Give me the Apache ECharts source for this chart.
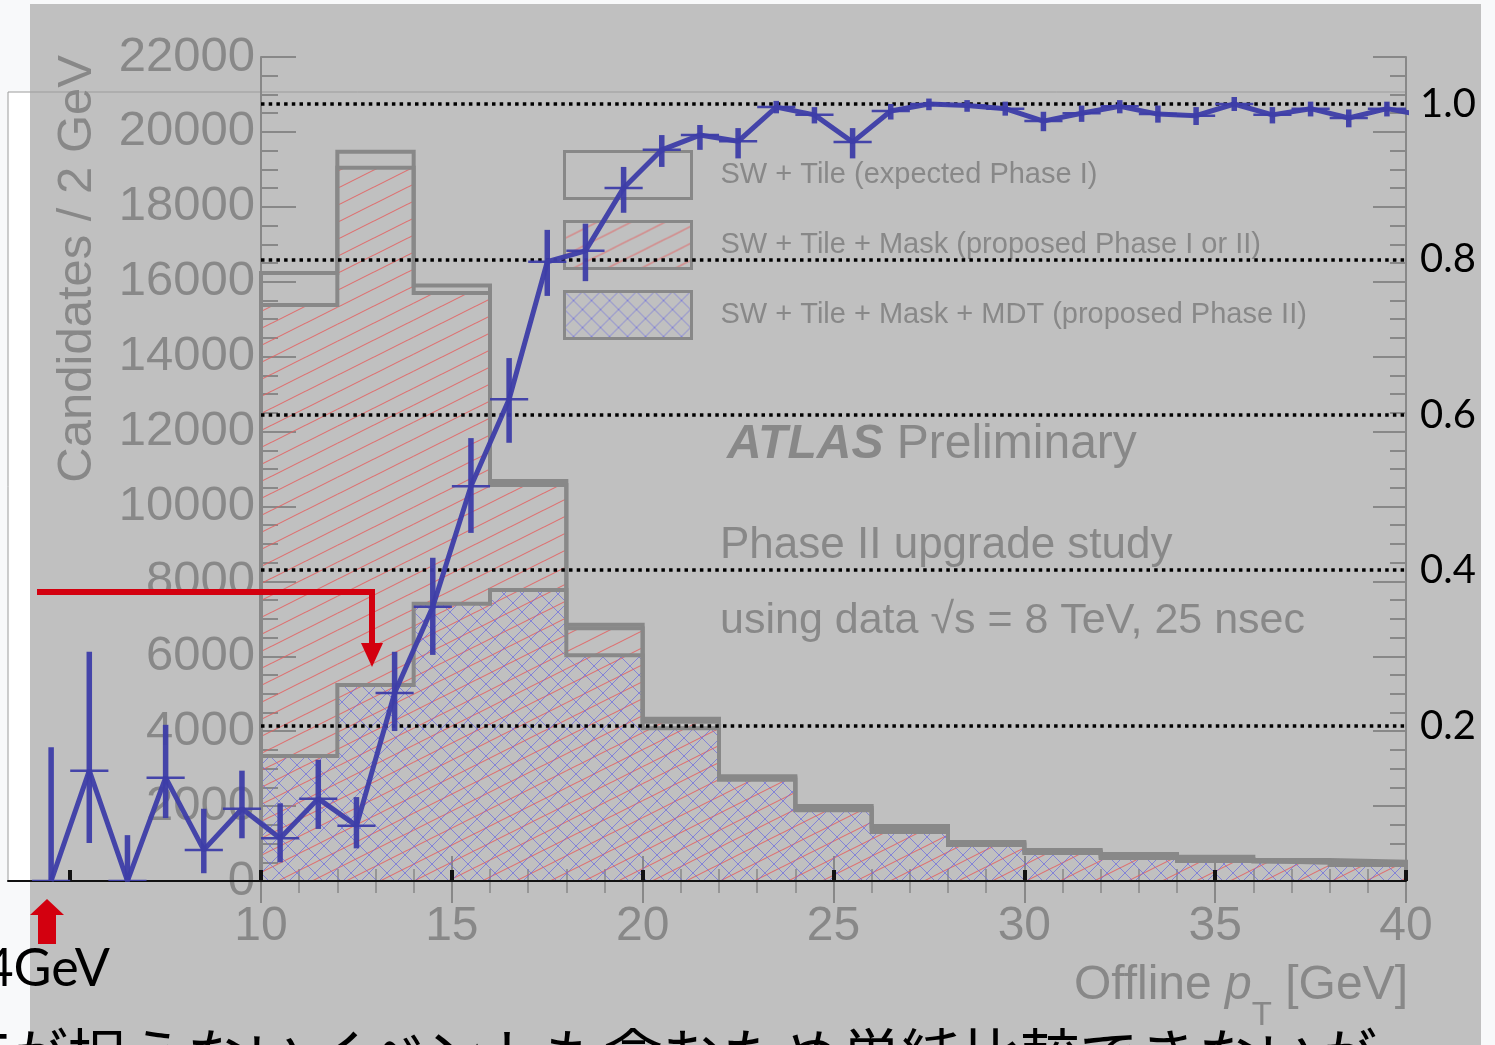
<!DOCTYPE html>
<html><head><meta charset="utf-8">
<script src="https://cdn.jsdelivr.net/npm/echarts@6/dist/echarts.min.js"></script>
<style>html,body{margin:0;padding:0;background:#f8f9fa;}#c{width:1495px;height:1045px;}</style>
</head><body><div id="c"></div>
<script>
// ---- histogram data (Candidates / 2 GeV) ----
const binLow  = [10,12,14,16,18,20,22,24,26,28,30,32,34,36,38];
const binHigh = [12,14,16,18,20,22,24,26,28,30,32,34,36,38,40];
const swTile        = [16230,19470,15900,10680,6840,4330,2800,2000,1470,1040,830,720,650,560,515];
const swTileMask    = [15380,19040,15700,10575,6750,4250,2760,1950,1390,1000,790,660,590,520,470];
const swTileMaskMdt = [3340,5230,7400,7770,6030,4080,2700,1890,1310,960,750,615,535,490,430];
const seriesNames = ['SW + Tile (expected Phase I)','SW + Tile + Mask (proposed Phase I or II)','SW + Tile + Mask + MDT (proposed Phase II)'];

// ---- efficiency data (overlay, right axis) ----
const effPt  = [4.5,5.5,6.5,7.5,8.5,9.5,10.5,11.5,12.5,13.5,14.5,15.5,16.5,17.5,18.5,19.5,20.5,21.5,22.5,23.5,24.5,25.5,26.5,27.5,28.5,29.5,30.5,31.5,32.5,33.5,34.5,35.5,36.5,37.5,38.5,39.5,40.5];
const effVal = [0,0.142,0,0.133,0.040,0.093,0.055,0.106,0.071,0.242,0.353,0.508,0.620,0.797,0.811,0.892,0.941,0.960,0.952,0.996,0.986,0.951,0.991,1.000,0.998,0.994,0.978,0.988,0.997,0.987,0.985,1.000,0.986,0.994,0.982,0.994,0.985];
const effLo  = [0,0.049,0,0.081,0.010,0.055,0.024,0.067,0.042,0.193,0.291,0.448,0.564,0.753,0.772,0.860,0.919,0.941,0.930,0.988,0.975,0.930,0.980,0.992,0.990,0.985,0.965,0.977,0.988,0.976,0.973,0.991,0.975,0.984,0.970,0.984,0.985];
const effHi  = [0.172,0.295,0.059,0.201,0.093,0.142,0.100,0.156,0.108,0.295,0.416,0.570,0.673,0.838,0.846,0.919,0.960,0.973,0.969,1.004,0.996,0.969,1.000,1.007,1.005,1.003,0.990,0.998,1.005,0.998,0.996,1.009,0.996,1.003,0.993,1.003,0.985];
const effTicks = [5,10,15,20,25,30,35,40];

// ---- hatch patterns ----
function redHatch(){
  const w=34,h=17,c=document.createElement('canvas');c.width=w;c.height=h;
  const g=c.getContext('2d');g.strokeStyle='rgba(228,96,96,0.85)';g.lineWidth=1.1;
  for(let k=-1;k<=1;k++){g.beginPath();g.moveTo(-2,h+1+k*h);g.lineTo(w+2,-1+k*h);g.stroke();}
  return c;
}
function blueCross(){
  const p=18,c=document.createElement('canvas');c.width=p;c.height=p;
  const g=c.getContext('2d');g.strokeStyle='rgba(105,105,225,0.7)';g.lineWidth=1;
  for(let k=-1;k<=1;k++){
    g.beginPath();g.moveTo(-1,-1+k*p);g.lineTo(p+1,p+1+k*p);g.stroke();
    g.beginPath();g.moveTo(-1,p+1+k*p);g.lineTo(p+1,-1+k*p);g.stroke();
  }
  return c;
}
const redPat={image:redHatch(),repeat:'repeat'};
const bluePat={image:blueCross(),repeat:'repeat'};
const GRAY='#888', BLUE='#3d3da8', RED='#d3000f';
const ROOT_FONT='"Liberation Sans", Arial, sans-serif';

function histFill(name, vals, fill, border){
  return {
    type:'custom', name:name, xAxisIndex:0, yAxisIndex:0, z:2,
    itemStyle:{color:fill, borderColor:border, borderWidth:3},
    data: binLow.map((b,i)=>[b, binHigh[i], vals[i]]),
    encode:{x:[0,1], y:2},
    renderItem:(params, api)=>{
      const p0=api.coord([api.value(0), api.value(2)]);
      const p1=api.coord([api.value(1), 0]);
      return {type:'rect', shape:{x:p0[0], y:p0[1], width:p1[0]-p0[0], height:p1[1]-p0[1]}, style:{fill:fill}};
    }
  };
}
function histOutline(vals, z){
  const pts=[[binLow[0],0]];
  vals.forEach((v,i)=>{pts.push([binLow[i],v]);pts.push([binHigh[i],v]);});
  pts.push([binHigh[binHigh.length-1],0]);
  return {type:'line', name:'outline', xAxisIndex:0, yAxisIndex:0, z:z, symbol:'none', silent:true,
    lineStyle:{color:GRAY, width:4, join:'miter'}, data:pts};
}

const chart=echarts.init(document.getElementById('c'),null,{renderer:'canvas'});
const tickAxisCommon={
  axisLine:{show:true, lineStyle:{color:GRAY, width:2}},
  splitLine:{show:false}
};
chart.setOption({
  animation:false,
  backgroundColor:'#f8f9fa',
  grid:[
    {left:261, top:57, width:1145, height:824, show:false},
    {left:261, top:104, width:1145, height:777, show:false},
    {left:8, top:92, width:1398, height:789, show:true, backgroundColor:'transparent', borderColor:'#9c9c9c', borderWidth:1}
  ],
  xAxis:[
    Object.assign({gridIndex:0, type:'value', min:10, max:40, interval:5, position:'bottom',
      axisTick:{show:true, inside:true, length:25, lineStyle:{color:GRAY, width:2}},
      minorTick:{show:true, splitNumber:5, length:12, lineStyle:{color:GRAY, width:1.5}},
      axisLabel:{show:true, color:GRAY, fontSize:48, fontFamily:ROOT_FONT, margin:22, formatter:v=>String(v)}}, tickAxisCommon),
    Object.assign({gridIndex:0, type:'value', min:10, max:40, interval:5, position:'top',
      axisTick:{show:true, inside:true, length:22, lineStyle:{color:GRAY, width:2}},
      minorTick:{show:true, splitNumber:5, length:12, lineStyle:{color:GRAY, width:1.5}},
      axisLabel:{show:false}}, tickAxisCommon),
    {gridIndex:1, type:'value', min:10, max:40, show:false},
    {gridIndex:2, type:'value', min:3.37, max:40, position:'bottom', z:6,
      axisLine:{show:true, lineStyle:{color:'#111', width:2}},
      axisTick:{show:true, inside:true, length:11, customValues:effTicks, lineStyle:{color:'#111', width:4}},
      axisLabel:{show:false}, splitLine:{show:false}}
  ],
  yAxis:[
    Object.assign({gridIndex:0, type:'value', min:0, max:22000, interval:2000, position:'left',
      axisTick:{show:true, inside:true, length:35, lineStyle:{color:GRAY, width:2}},
      minorTick:{show:true, splitNumber:4, length:17, lineStyle:{color:GRAY, width:2}},
      axisLabel:{show:true, color:GRAY, fontSize:49, fontFamily:ROOT_FONT, margin:6, formatter:v=>String(v)}}, tickAxisCommon),
    Object.assign({gridIndex:0, type:'value', min:0, max:22000, interval:2000, position:'right',
      axisTick:{show:true, inside:true, length:33, lineStyle:{color:GRAY, width:2}},
      minorTick:{show:true, splitNumber:4, length:16, lineStyle:{color:GRAY, width:2}},
      axisLabel:{show:false}}, tickAxisCommon),
    {gridIndex:1, type:'value', min:0, max:1, interval:0.2, position:'right', z:5,
      axisLine:{show:false}, axisTick:{show:false},
      axisLabel:{show:true, color:'#000', fontSize:40, fontFamily:'Lato, "Open Sans", sans-serif', margin:14, showMinLabel:false,
        padding:[10,0,0,0], formatter:v=>v.toFixed(1)},
      splitLine:{show:true, showMinLine:false, lineStyle:{color:'#000', width:3.5, type:[3.5,4.2]}}},
    {gridIndex:2, type:'value', min:0, max:1.01544, show:false}
  ],
  legend:{
    show:true, orient:'vertical', left:563, top:150, itemWidth:127, itemHeight:47, itemGap:20,
    padding:0, selectedMode:false, icon:'rect', z:4,
    itemStyle:{borderColor:GRAY, borderWidth:3},
    textStyle:{color:GRAY, fontSize:29, fontFamily:ROOT_FONT, padding:[0,0,0,24]},
    data:seriesNames
  },
  series:[
    histFill(seriesNames[0], swTile, 'rgba(0,0,0,0)', GRAY),
    histFill(seriesNames[1], swTileMask, redPat, GRAY),
    histFill(seriesNames[2], swTileMaskMdt, bluePat, GRAY),
    histOutline(swTile, 3),
    histOutline(swTileMask, 3),
    histOutline(swTileMaskMdt, 3),
    {type:'line', name:'efficiency', xAxisIndex:3, yAxisIndex:3, z:10, symbol:'none', clip:true, silent:true,
      lineStyle:{color:BLUE, width:5, opacity:0.95},
      data:effPt.map((x,i)=>[x, effVal[i]])},
    {type:'custom', name:'efficiency errors', xAxisIndex:3, yAxisIndex:3, z:10, clip:true, silent:true,
      data:effPt.map((x,i)=>[x, effVal[i], effLo[i], effHi[i]]),
      renderItem:(params, api)=>{
        const x=api.value(0), v=api.value(1);
        const pc=api.coord([x, v]), pl=api.coord([x, api.value(2)]), ph=api.coord([x, api.value(3)]);
        const pL=api.coord([x-0.5, v]), pR=api.coord([x+0.5, v]);
        return {type:'group', children:[
          {type:'line', shape:{x1:pc[0], y1:ph[1], x2:pc[0], y2:pl[1]}, style:{stroke:BLUE, lineWidth:5.5, opacity:0.95}},
          {type:'line', shape:{x1:pL[0], y1:pc[1], x2:pR[0], y2:pc[1]}, style:{stroke:BLUE, lineWidth:2.5, opacity:0.95}}
        ]};
      }}
  ],
  graphic:[
    {type:'rect', z:-20, silent:true, shape:{x:8, y:92, width:22, height:789}, style:{fill:'#ffffff'}},
    {type:'rect', z:-20, silent:true, shape:{x:30, y:4, width:1451, height:1041}, style:{fill:'#c0c0c0'}},
    {type:'text', z:1, x:77, y:55, rotation:Math.PI/2, silent:true,
      style:{text:'Candidates / 2 GeV', fill:GRAY, font:'49px '+ROOT_FONT, textAlign:'right', textVerticalAlign:'middle'}},
    {type:'text', z:1, x:1408, y:986, silent:true,
      style:{text:'Offline {i|p}{s|T} [GeV]', fill:GRAY, fontSize:48, fontFamily:ROOT_FONT, textAlign:'right', textVerticalAlign:'middle',
        rich:{i:{fontStyle:'italic', fontSize:48, fontFamily:ROOT_FONT, fill:GRAY}, s:{fontSize:33, fontFamily:ROOT_FONT, fill:GRAY, padding:[60,0,0,0]}}}},
    {type:'text', z:1, x:727, y:445, silent:true,
      style:{text:'{b|ATLAS} Preliminary', fill:GRAY, fontSize:48, fontFamily:ROOT_FONT, textVerticalAlign:'middle',
        rich:{b:{fontWeight:'bold', fontStyle:'italic', fontSize:48, fontFamily:ROOT_FONT, fill:GRAY}}}},
    {type:'text', z:1, x:720, y:546, silent:true,
      style:{text:'Phase II upgrade study', fill:GRAY, fontSize:44, fontFamily:ROOT_FONT, textVerticalAlign:'middle'}},
    {type:'text', z:1, x:720, y:621, silent:true,
      style:{text:'using data \u221As = 8 TeV, 25 nsec', fill:GRAY, fontSize:43, fontFamily:ROOT_FONT, textVerticalAlign:'middle'}},
    {type:'polyline', z:100, silent:true, shape:{points:[[37,592],[372,592],[372,648]]},
      style:{stroke:RED, lineWidth:6, fill:null, lineJoin:'miter'}},
    {type:'polygon', z:100, silent:true, shape:{points:[[361,643],[383,643],[372,667]]}, style:{fill:RED}},
    {type:'polygon', z:100, silent:true, shape:{points:[[30,915],[47,899],[64,915],[56,915],[56,944],[38,944],[38,915]]}, style:{fill:RED}},
    {type:'text', z:100, x:110, y:969, silent:true,
      style:{text:'4GeV', fill:'#000', fontSize:52, fontFamily:'Lato, "Open Sans", sans-serif', textAlign:'right', textVerticalAlign:'middle'}},
    {type:'text', z:100, x:1377, y:1026, silent:true,
      style:{text:'Tが捉えないイベントも含むため単純比較できないが', fill:'#000', fontSize:59.5, fontFamily:'"Noto Sans CJK JP", sans-serif', textAlign:'right', textVerticalAlign:'top'}}
  ]
});
</script></body></html>
